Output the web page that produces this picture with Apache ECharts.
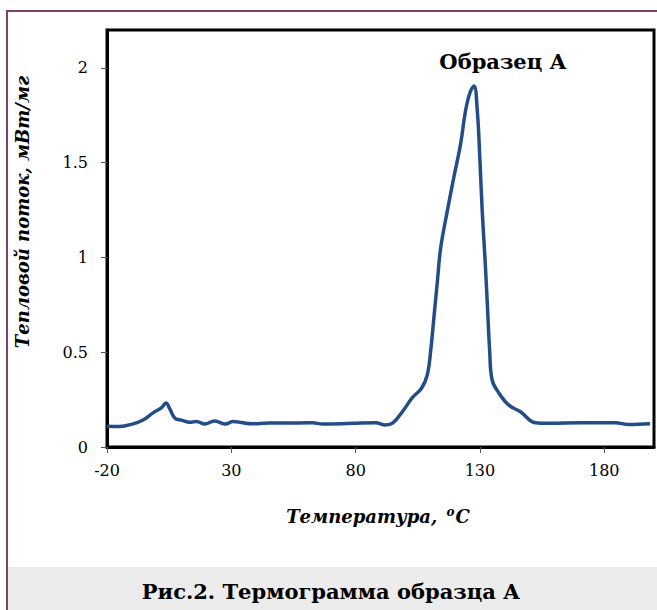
<!DOCTYPE html>
<html>
<head>
<meta charset="utf-8">
<script src="https://cdn.jsdelivr.net/npm/echarts@6/dist/echarts.min.js"></script>
<style>
html,body{margin:0;padding:0;background:#fff;}
#chart{width:657px;height:610px;}
</style>
</head>
<body>
<div id="chart"></div>
<script>
const temperature = [-20, -15, -9.5, -5.5, -1.5, 2, 3.7, 5.3, 7.3, 10, 13.3, 16, 19.3, 23.3, 27.7, 30.6, 34.7, 38, 45, 50, 62.7, 66.7, 78.8, 88, 92, 95, 99, 102.8, 106.5, 108.8, 110.2, 111.5, 112.8, 114.2, 116.9, 119.5, 122.2, 124.2, 126, 127.6, 128.9, 130, 130.9, 132, 132.9, 133.9, 134.9, 137.6, 141.6, 146.3, 152.3, 157.6, 171, 184.4, 189.7, 198.4];
const heatFlow = [0.11, 0.108, 0.122, 0.142, 0.18, 0.208, 0.232, 0.2, 0.152, 0.142, 0.13, 0.135, 0.121, 0.137, 0.121, 0.135, 0.128, 0.123, 0.126, 0.126, 0.128, 0.121, 0.125, 0.128, 0.116, 0.127, 0.19, 0.26, 0.31, 0.38, 0.51, 0.686, 0.862, 1.05, 1.247, 1.423, 1.598, 1.774, 1.87, 1.905, 1.78, 1.51, 1.247, 1.0, 0.774, 0.51, 0.353, 0.285, 0.221, 0.186, 0.128, 0.125, 0.128, 0.128, 0.119, 0.123];
const xTicks = [-20, 30, 80, 130, 180];
const yTicks = [0, 0.5, 1, 1.5, 2];
const seriesName = 'Образец А';
const xTitle = 'Температура, ';
const yTitle = 'Тепловой поток, мВт/мг';
const caption = 'Рис.2. Термограмма образца А';

const FONT = 'DejaVu Serif';
const chart = echarts.init(document.getElementById('chart'), null, {renderer: 'svg'});
const pts = temperature.map((t, i) => [t, heatFlow[i]]);

chart.setOption({
  animation: false,
  backgroundColor: '#fff',
  grid: {left: 107, top: 30, right: 3, bottom: 163, show: true, borderColor: '#000', borderWidth: 3, backgroundColor: '#fff'},
  xAxis: {
    type: 'value', min: -20, max: 200,
    splitLine: {show: false},
    axisLine: {show: true, onZero: false, lineStyle: {color: '#000', width: 3}},
    axisTick: {show: true, customValues: xTicks, length: 6, lineStyle: {color: '#555', width: 1}},
    axisLabel: {customValues: xTicks, margin: 15, color: '#000', fontFamily: FONT, fontSize: 16}
  },
  yAxis: {
    type: 'value', min: 0, max: 2.2,
    splitLine: {show: false},
    axisLine: {show: true, onZero: false, lineStyle: {color: '#000', width: 3}},
    axisTick: {show: true, customValues: yTicks, length: 6, lineStyle: {color: '#555', width: 1}},
    axisLabel: {customValues: yTicks, margin: 19, color: '#000', fontFamily: FONT, fontSize: 16}
  },
  series: [{
    type: 'line', name: seriesName, data: pts,
    showSymbol: false, smooth: 0.4,
    lineStyle: {color: '#234d87', width: 3.5},
    itemStyle: {color: '#234d87'}
  }],
  graphic: [
    {type: 'rect', silent: true, z: -10, shape: {x: 8, y: 567, width: 660, height: 50}, style: {fill: '#ebeceb'}},
    {type: 'line', silent: true, shape: {x1: 7, y1: 11, x2: 660, y2: 11}, style: {stroke: '#80406f', lineWidth: 2}},
    {type: 'line', silent: true, shape: {x1: 7, y1: 10, x2: 7, y2: 612}, style: {stroke: '#80406f', lineWidth: 2}},
    {type: 'text', silent: true, x: 503, y: 61, style: {text: seriesName, fontFamily: FONT, fontWeight: 'bold', fontSize: 21, fill: '#000', align: 'center', verticalAlign: 'middle'}},
    {type: 'text', silent: true, x: 22, y: 212, rotation: Math.PI / 2, style: {text: yTitle, fontFamily: FONT, fontStyle: 'italic', fontWeight: 'bold', fontSize: 18, fill: '#000', align: 'center', verticalAlign: 'middle'}},
    {type: 'text', silent: true, x: 378, y: 516, style: {
      text: '{a|' + xTitle + '}{s|o}{a|C}',
      align: 'center', verticalAlign: 'middle',
      rich: {
        a: {fontFamily: FONT, fontStyle: 'italic', fontWeight: 'bold', fontSize: 18, color: '#000'},
        s: {fontFamily: FONT, fontStyle: 'italic', fontWeight: 'bold', fontSize: 12, color: '#000', verticalAlign: 'top', padding: [0, 1, 8, 3]}
      }
    }},
    {type: 'text', silent: true, x: 331, y: 591, style: {text: caption, fontFamily: FONT, fontWeight: 'bold', fontSize: 21, fill: '#000', align: 'center', verticalAlign: 'middle'}}
  ]
});
</script>
</body>
</html>
